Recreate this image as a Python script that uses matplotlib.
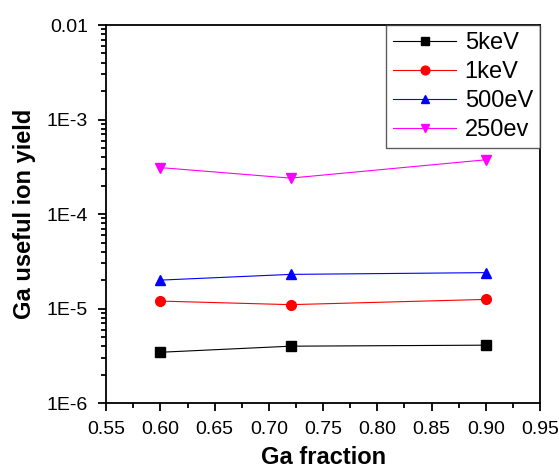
import math
import matplotlib.pyplot as plt
from matplotlib.ticker import LogLocator, MultipleLocator, FuncFormatter, NullFormatter

plt.rcParams['font.family'] = ['Liberation Sans', 'DejaVu Sans']

ga_fraction = [0.60, 0.72, 0.90]
yield_5kev = [3.45e-6, 4.0e-6, 4.1e-6]
yield_1kev = [1.2e-5, 1.1e-5, 1.25e-5]
yield_500ev = [2.0e-5, 2.3e-5, 2.4e-5]
yield_250ev = [3.1e-4, 2.4e-4, 3.75e-4]

series = [("5keV", yield_5kev, 'black', 's'),
          ("1keV", yield_1kev, 'red', 'o'),
          ("500eV", yield_500ev, 'blue', '^'),
          ("250ev", yield_250ev, 'magenta', 'v')]

fig = plt.figure(figsize=(5.59, 4.72), dpi=100)
ax = fig.add_axes([0.19, 0.146, 0.776, 0.801])

for label, values, color, marker in series:
    ax.plot(ga_fraction, values, color=color, marker=marker, markersize=7,
            linewidth=0.8, label=label)

ax.set_yscale('log')
ax.set_xlim(0.55, 0.95)
ax.set_ylim(1e-6, 1e-2)

ax.xaxis.set_major_locator(MultipleLocator(0.05))
ax.xaxis.set_minor_locator(MultipleLocator(0.025))
ax.xaxis.set_major_formatter(FuncFormatter(lambda v, p: f"{v:.2f}"))


def fmt_y(v, p):
    if v >= 0.01:
        return "0.01"
    return f"1E{int(round(math.log10(v)))}"


ax.yaxis.set_major_locator(LogLocator(base=10, numticks=10))
ax.yaxis.set_minor_locator(LogLocator(base=10, subs=range(2, 10), numticks=20))
ax.yaxis.set_major_formatter(FuncFormatter(fmt_y))
ax.yaxis.set_minor_formatter(NullFormatter())

ax.tick_params(which='both', direction='out', top=False, right=False,
               labelsize=14, width=1.3, pad=7)
ax.tick_params(which='major', length=6)
ax.tick_params(which='minor', length=3.5)
for spine in ax.spines.values():
    spine.set_linewidth(1.3)

ax.set_xlabel("Ga fraction", fontsize=17, fontweight='bold', labelpad=6)
ax.set_ylabel("Ga useful ion yield", fontsize=17, fontweight='bold', labelpad=8)

leg = ax.legend(loc='upper right', fontsize=17, frameon=True, fancybox=False,
                edgecolor='#333333', handlelength=2.7, borderaxespad=0,
                labelspacing=0.3, borderpad=0.3, markerscale=0.9,
                handletextpad=0.35)
leg.get_frame().set_linewidth(1.0)

plt.savefig("out.png")
